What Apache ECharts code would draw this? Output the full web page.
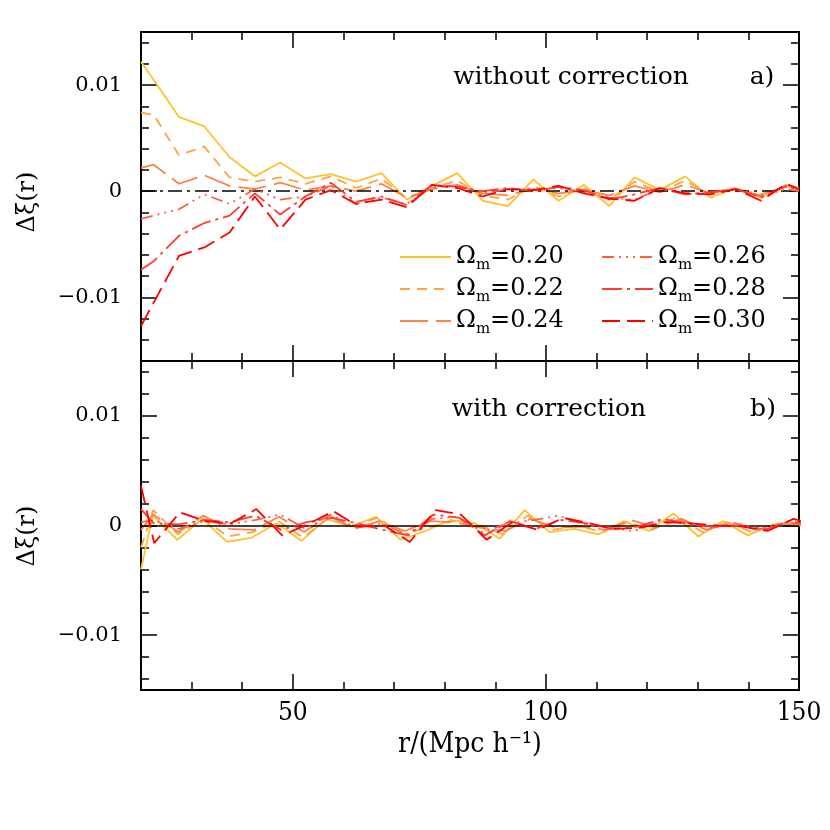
<!DOCTYPE html>
<html>
<head>
<meta charset="utf-8">
<script src="https://cdn.jsdelivr.net/npm/echarts@6.0.0/dist/echarts.min.js"></script>
<style>
  html, body { margin: 0; padding: 0; background: #fff; }
  #chart { width: 830px; height: 830px; }
</style>
</head>
<body>
<div id="chart"></div>
<script>
// r bins for panel a (same for every model)
const rA = [20, 22.5, 27.5, 32.5, 37.5, 42.5, 47.5, 52.5, 57.5, 62.5, 67.5, 72.5, 77.5, 82.5, 87.5,
  92.5, 97.5, 102.5, 107.5, 112.5, 117.5, 122.5, 127.5, 132.5, 137.5, 142.5, 147.5, 150]

// panel a: without correction
const om20a = [0.0122, 0.0105, 0.0070, 0.0061, 0.0032, 0.0014, 0.0027, 0.0012, 0.0016, 0.0009, 0.0017, -0.0008, 0.0005, 0.0017,
  -0.0009, -0.0014, 0.0011, -0.0009, 0.0006, -0.0014, 0.0013, 0.0001, 0.0014, -0.0006, 0.0003, -0.0006, 0.0006, 0.0003]
const om22a = [0.0074, 0.0072, 0.0034, 0.0042, 0.0013, 0.0009, 0.0013, 0.0007, 0.0014, 0.0003, 0.0012, -0.0007, 0.0003, 0.0010,
  -0.0004, -0.0008, 0.0005, -0.0005, 0.0003, -0.0008, 0.0009, -0.0001, 0.0010, -0.0003, 0.0002, -0.0004, 0.0005, 0.0002]
const om24a = [0.0022, 0.0025, 0.0007, 0.0015, 0.0005, 0.0002, 0.0008, 0.0001, 0.0005, 0.0000, 0.0007, -0.0006, 0.0002, 0.0006,
  -0.0002, -0.0004, 0.0002, -0.0002, 0.0001, -0.0004, 0.0005, -0.0001, 0.0006, -0.0002, 0.0002, -0.0003, 0.0004, 0.0001]
const om26a = [-0.0026, -0.0023, -0.0017, -0.0003, -0.0012, 0.0002, -0.0008, -0.0005, 0.0005, -0.0012, -0.0006, -0.0012, 0.0004, 0.0005,
  -0.0002, 0.0002, 0.0001, 0.0003, -0.0001, -0.0006, -0.0008, 0.0002, -0.0002, -0.0002, 0.0003, -0.0005, 0.0002, 0.0000]
const om28a = [-0.0074, -0.0066, -0.0042, -0.0030, -0.0023, -0.0002, -0.0022, -0.0005, 0.0008, -0.0010, -0.0005, -0.0013, 0.0006, 0.0004,
  0.0000, 0.0003, 0.0000, 0.0004, 0.0001, -0.0008, -0.0003, 0.0003, -0.0003, -0.0001, 0.0002, -0.0006, 0.0005, 0.0001]
const om30a = [-0.0127, -0.0105, -0.0061, -0.0053, -0.0039, -0.0005, -0.0036, -0.0008, 0.0001, -0.0012, -0.0008, -0.0015, 0.0006, 0.0003,
  -0.0005, 0.0002, 0.0001, 0.0005, -0.0002, -0.0007, -0.0009, 0.0003, -0.0002, -0.0003, 0.0002, -0.0009, 0.0007, 0.0002]

// panel b: with correction, r is rescaled so each model has its own bins
const rB20 = [20, 22.3, 27.2, 32.1, 37.0, 41.9, 46.8, 51.7, 56.6, 61.5, 66.4, 71.3, 76.2, 81.1, 86.0,
  90.9, 95.8, 100.7, 105.6, 110.5, 115.4, 120.3, 125.2, 130.1, 135.0, 139.9, 144.8, 149.7]
const rB22 = [20, 22.4, 27.3, 32.3, 37.2, 42.1, 47.1, 52.0, 56.9, 61.8, 66.8, 71.7, 76.6, 81.6, 86.5,
  91.4, 96.4, 101.3, 106.2, 111.1, 116.1, 121.0, 125.9, 130.9, 135.8, 140.7, 145.7, 150.6]
const rB24 = [20, 22.4, 27.4, 32.3, 37.3, 42.3, 47.3, 52.2, 57.2, 62.2, 67.1, 72.1, 77.1, 82.0, 87.0,
  92.0, 96.9, 101.9, 106.9, 111.9, 116.8, 121.8, 126.8, 131.7, 136.7, 141.7, 146.6, 151.6]
const rB26 = [20, 22.5, 27.5, 32.5, 37.5, 42.5, 47.5, 52.5, 57.5, 62.5, 67.5, 72.5, 77.5, 82.5, 87.5,
  92.5, 97.5, 102.5, 107.5, 112.5, 117.5, 122.5, 127.5, 132.5, 137.5, 142.5, 147.5, 152.5]
const rB28 = [20, 22.5, 27.5, 32.6, 37.6, 42.6, 47.7, 52.7, 57.7, 62.7, 67.8, 72.8, 77.8, 82.9, 87.9,
  92.9, 98.0, 103.0, 108.0, 113.0, 118.1, 123.1, 128.1, 133.2, 138.2, 143.2, 148.3, 153.3]
const rB30 = [20, 22.6, 27.7, 32.7, 37.8, 42.8, 47.9, 52.9, 58.0, 63.0, 68.1, 73.1, 78.2, 83.2, 88.3,
  93.3, 98.4, 103.4, 108.5, 113.5, 118.6, 123.6, 128.7, 133.7, 138.8, 143.8, 148.9, 153.9]

const om20b = [-0.0040, 0.0009, -0.0013, 0.0006, -0.0015, -0.0011, 0.0002, -0.0014, 0.0006, -0.0001, 0.0008, -0.0013, -0.0005, 0.0005,
  0.0002, -0.0012, 0.0014, -0.0006, -0.0003, -0.0008, 0.0004, -0.0005, 0.0011, -0.0010, 0.0004, -0.0009, 0.0001, 0.0001]
const om22b = [-0.0020, 0.0014, -0.0008, 0.0006, -0.0010, -0.0006, 0.0004, -0.0011, 0.0006, 0.0000, 0.0007, -0.0008, -0.0002, 0.0004,
  0.0001, -0.0008, 0.0009, -0.0004, 0.0000, -0.0006, 0.0003, -0.0004, 0.0008, -0.0006, 0.0003, -0.0006, 0.0001, 0.0000]
const om24b = [-0.0004, 0.0010, -0.0006, 0.0009, -0.0003, -0.0004, 0.0008, -0.0006, 0.0009, -0.0003, 0.0004, -0.0005, 0.0004, 0.0003,
  -0.0002, -0.0005, 0.0006, -0.0002, -0.0001, -0.0004, 0.0005, -0.0002, 0.0006, -0.0004, 0.0003, -0.0004, 0.0002, 0.0000]
const om26b = [0.0003, 0.0005, -0.0003, 0.0004, 0.0001, 0.0005, 0.0010, -0.0003, 0.0010, -0.0002, 0.0002, -0.0008, 0.0006, 0.0008,
  -0.0006, 0.0002, 0.0005, 0.0009, 0.0001, -0.0002, -0.0005, 0.0004, 0.0003, -0.0002, 0.0002, -0.0003, 0.0003, 0.0000]
const om28b = [0.0015, 0.0002, 0.0001, 0.0005, 0.0003, 0.0009, -0.0004, 0.0003, 0.0007, 0.0002, -0.0004, -0.0009, 0.0010, 0.0007,
  -0.0009, 0.0004, -0.0003, 0.0005, 0.0002, -0.0003, -0.0001, 0.0006, 0.0001, -0.0001, 0.0000, -0.0004, 0.0004, 0.0000]
const om30b = [0.0036, -0.0016, 0.0012, 0.0004, 0.0002, 0.0015, -0.0009, 0.0001, 0.0013, -0.0001, 0.0000, -0.0015, 0.0014, 0.0010,
  -0.0013, 0.0003, -0.0004, 0.0007, 0.0002, -0.0003, -0.0002, 0.0003, 0.0002, 0.0000, -0.0001, -0.0005, 0.0006, 0.0000]

const models = ['0.20', '0.22', '0.24', '0.26', '0.28', '0.30']
const panelA = [om20a, om22a, om24a, om26a, om28a, om30a]
const panelB = [[rB20, om20b], [rB22, om22b], [rB24, om24b], [rB26, om26b], [rB28, om28b], [rB30, om30b]]

// tick labels / tick positions
const xMinorTicks = [30, 40, 60, 70, 80, 90, 110, 120, 130, 140]
const xMajorTicks = [50, 100, 150]
const yMinorTicks = [-0.014, -0.012, -0.008, -0.006, -0.004, -0.002, 0.002, 0.004, 0.006, 0.008, 0.012, 0.014]
const yMajorTicks = [-0.01, 0, 0.01]

const lineColors = ['#FFC22E', '#FFA245', '#FF8048', '#FF6040', '#FF3C30', '#FF0000']
const lineTypes = ['solid', [10, 7], [28, 8], [12, 5, 2, 5, 2, 5, 2, 5], [20, 5, 3, 5], [18, 7]]

const FONT = '"DejaVu Serif", "Liberation Serif", serif'
const FONT_C = '"DejaVu Serif Condensed", "DejaVu Serif", serif'

function xAxis(g, pos, ticks, len, labels) {
  return {
    type: 'value', gridIndex: g, position: pos, min: 20, max: 150,
    axisLine: { show: true, onZero: false, lineStyle: { color: '#000', width: 2 } },
    axisTick: { show: true, inside: true, length: len, customValues: ticks, lineStyle: { color: '#000', width: 1.5 } },
    axisLabel: { show: labels, customValues: xMajorTicks, margin: 10, color: '#000', fontFamily: FONT_C, fontSize: 26 },
    splitLine: { show: false },
  }
}

function yAxis(g, pos, min, max, ticks, len, labels) {
  return {
    type: 'value', gridIndex: g, position: pos, min, max,
    axisLine: { show: true, onZero: false, lineStyle: { color: '#000', width: 2 } },
    axisTick: { show: true, inside: true, length: len, customValues: ticks, lineStyle: { color: '#000', width: 1.5 } },
    axisLabel: {
      show: labels, customValues: yMajorTicks, margin: 19, color: '#000', fontFamily: FONT, fontSize: 21,
      formatter: (v) => (Math.abs(v) < 1e-9 ? '0' : (v < 0 ? '\u2212' : '') + Math.abs(v).toFixed(2)),
    },
    splitLine: { show: false },
  }
}

const xAxes = []
const yAxes = []
const yRanges = [[-0.016, 0.015], [-0.015, 0.015]]
for (let g = 0; g < 2; g++) {
  xAxes.push(xAxis(g, 'bottom', xMinorTicks, 8, g === 1))
  xAxes.push(xAxis(g, 'bottom', xMajorTicks, 16, false))
  xAxes.push(xAxis(g, 'top', xMinorTicks, 8, false))
  xAxes.push(xAxis(g, 'top', xMajorTicks, 16, false))
  const [lo, hi] = yRanges[g]
  yAxes.push(yAxis(g, 'left', lo, hi, yMinorTicks, 8, false))
  yAxes.push(yAxis(g, 'left', lo, hi, yMajorTicks, 16, true))
  yAxes.push(yAxis(g, 'right', lo, hi, yMinorTicks, 8, false))
  yAxes.push(yAxis(g, 'right', lo, hi, yMajorTicks, 16, false))
}

function zeroLine(type) {
  return {
    silent: true, symbol: 'none', label: { show: false },
    lineStyle: { color: '#000', type, width: 1.5 },
    data: [{ yAxis: 0 }],
  }
}

const series = []
models.forEach((m, i) => {
  series.push({
    type: 'line', name: m, xAxisIndex: 0, yAxisIndex: 0,
    data: rA.map((r, k) => [r, panelA[i][k]]),
    symbol: 'none', clip: true,
    lineStyle: { color: lineColors[i], type: lineTypes[i], width: 1.8 },
    itemStyle: { color: lineColors[i] },
    markLine: i === 0 ? zeroLine([14, 5, 3, 5]) : undefined,
    z: 2 + i,
  })
})
models.forEach((m, i) => {
  const [rs, vs] = panelB[i]
  series.push({
    type: 'line', name: m, xAxisIndex: 4, yAxisIndex: 4,
    data: rs.map((r, k) => [r, vs[k]]),
    symbol: 'none', clip: true,
    lineStyle: { color: lineColors[i], type: lineTypes[i], width: 1.8 },
    itemStyle: { color: lineColors[i] },
    markLine: i === 0 ? zeroLine('solid') : undefined,
    z: 2 + i,
  })
})

const legendText = {
  color: '#000',
  rich: {
    a: { fontFamily: FONT, fontSize: 24, lineHeight: 32, color: '#000' },
    s: { fontFamily: FONT, fontSize: 15, lineHeight: 12, verticalAlign: 'bottom', color: '#000' },
  },
}
const legendFmt = (n) => `{a|\u03A9}{s|m}{a|=${n}}`

function legend(names, left) {
  return {
    data: names, orient: 'vertical', left, top: 240,
    itemWidth: 51, itemHeight: 14, itemGap: 4, formatter: legendFmt, textStyle: legendText,
    itemStyle: { opacity: 0 },
    selectedMode: false,
  }
}

const textStyle = (text, size) => ({
  text, font: `${size}px ${FONT}`, fill: '#000',
  align: 'center', verticalAlign: 'middle', textAlign: 'center', textVerticalAlign: 'middle',
})

const option = {
  animation: false,
  backgroundColor: '#fff',
  grid: [
    { left: 141, top: 32, width: 658, height: 329 },
    { left: 141, top: 361, width: 658, height: 329 },
  ],
  xAxis: xAxes,
  yAxis: yAxes,
  legend: [legend(models.slice(0, 3), 394), legend(models.slice(3), 596)],
  graphic: [
    { type: 'text', x: 571, y: 77, style: textStyle('without correction', 25) },
    { type: 'text', x: 762, y: 77, style: textStyle('a)', 25) },
    { type: 'text', x: 549, y: 409, style: textStyle('with correction', 25) },
    { type: 'text', x: 763, y: 409, style: textStyle('b)', 25) },
    { type: 'text', x: 28, y: 202, rotation: Math.PI / 2, style: textStyle('\u0394\u03BE(r)', 24) },
    { type: 'text', x: 28, y: 536, rotation: Math.PI / 2, style: textStyle('\u0394\u03BE(r)', 24) },
    { type: 'text', x: 470, y: 745, style: { ...textStyle('r/(Mpc h\u207B\u00B9)', 28), font: `28px ${FONT_C}` } },
  ],
  series,
}

const chart = echarts.init(document.getElementById('chart'), null, { renderer: 'canvas' })
chart.setOption(option)
window.addEventListener('resize', () => chart.resize())
</script>
</body>
</html>
